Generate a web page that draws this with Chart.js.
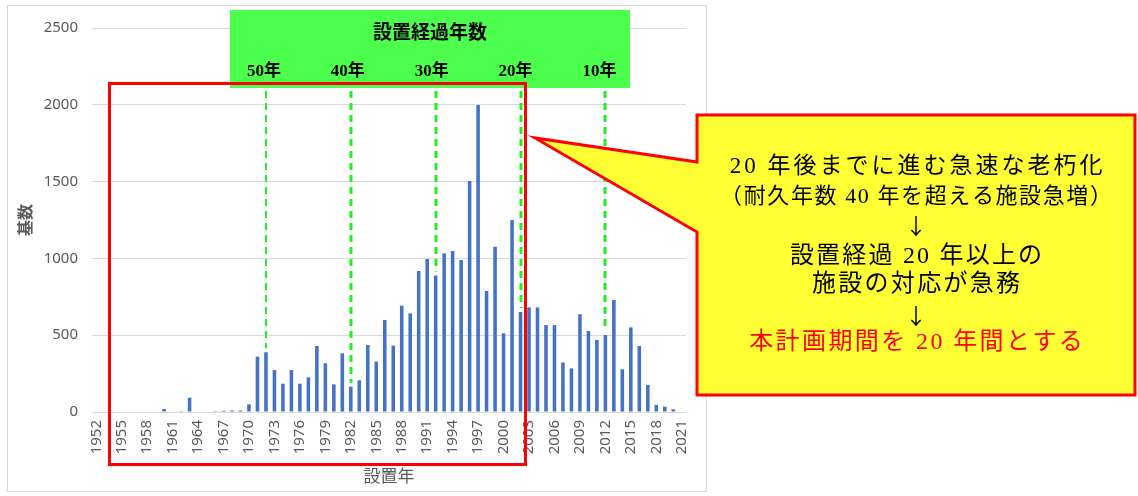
<!DOCTYPE html>
<html>
<head>
<meta charset="utf-8">
<script src="https://cdn.jsdelivr.net/npm/chart.js@4.4.1/dist/chart.umd.min.js"></script>
<style>
  html, body { margin: 0; padding: 0; background: #ffffff; }
  canvas { display: block; }
</style>
</head>
<body>
<canvas id="chart" width="1138" height="496"></canvas>
<script>
// Installation year of each facility group
const years = [
  '1952','1953','1954','1955','1956','1957','1958','1959','1960','1961',
  '1962','1963','1964','1965','1966','1967','1968','1969','1970','1971',
  '1972','1973','1974','1975','1976','1977','1978','1979','1980','1981',
  '1982','1983','1984','1985','1986','1987','1988','1989','1990','1991',
  '1992','1993','1994','1995','1996','1997','1998','1999','2000','2001',
  '2002','2003','2004','2005','2006','2007','2008','2009','2010','2011',
  '2012','2013','2014','2015','2016','2017','2018','2019','2020','2021'
];

// Number of facilities installed per year (基数)
const counts = [
  0, 0, 0, 0, 0, 0, 0, 0, 20, 0,
  5, 93, 0, 0, 5, 8, 10, 10, 50, 360,
  389, 273, 184, 273, 184, 226, 430, 317, 180, 382,
  165, 206, 436, 328, 599, 432, 692, 642, 918, 996,
  888, 1033, 1048, 990, 1504, 1999, 788, 1076, 512, 1250,
  651, 681, 681, 566, 566, 323, 284, 636, 527, 469,
  501, 729, 278, 551, 430, 176, 46, 35, 18, 0
];

// Y-axis ticks
const yTicks = [0, 500, 1000, 1500, 2000, 2500];

// Elapsed-years markers and the installation year each one falls on
const elapsedLabels = ['50年', '40年', '30年', '20年', '10年'];
const elapsedYears = ['1972', '1982', '1992', '2002', '2012'];

// Callout text
const calloutLines = [
  '20 年後までに進む急速な老朽化',
  '（耐久年数 40 年を超える施設急増）',
  '↓',
  '設置経過 20 年以上の',
  '施設の対応が急務',
  '↓',
  '本計画期間を 20 年間とする'
];

const SANS = "'Noto Sans', 'Noto Sans CJK JP', sans-serif";
const SERIF = "'Liberation Serif', 'Noto Sans CJK JP', serif";
const CJK = "'Noto Sans CJK JP', sans-serif";
const GREY = '#595959';

// Outer frame of the chart
const framePlugin = {
  id: 'frame',
  beforeDraw(chart) {
    const ctx = chart.ctx;
    ctx.save();
    ctx.fillStyle = '#ffffff';
    ctx.fillRect(0, 0, chart.width, chart.height);
    ctx.strokeStyle = '#d9d9d9';
    ctx.lineWidth = 1;
    ctx.strokeRect(7.5, 5.5, 699, 486);
    ctx.restore();
  }
};

// Elapsed-years band, dashed markers, highlight frame and callout
const annotationPlugin = {
  id: 'annotations',
  afterDatasetsDraw(chart) {
    const ctx = chart.ctx;
    const xs = chart.scales.x;
    const ys = chart.scales.y;
    ctx.save();

    // green header band
    ctx.fillStyle = '#4cff4c';
    ctx.fillRect(230, 10, 400, 78);
    ctx.fillStyle = '#000000';
    ctx.textAlign = 'center';
    ctx.textBaseline = 'middle';
    ctx.font = 'bold 19px ' + CJK;
    ctx.fillText('設置経過年数', 430, 32);

    ctx.font = 'bold 17px ' + SERIF;
    elapsedYears.forEach((yr, i) => {
      const idx = years.indexOf(yr);
      const x = xs.getPixelForValue(idx);
      ctx.fillText(elapsedLabels[i], x - 2 - i, 72);
    });

    // dashed markers down to each year's bar
    ctx.strokeStyle = '#22ee22';
    ctx.setLineDash([7, 5]);
    elapsedYears.forEach((yr, i) => {
      const idx = years.indexOf(yr);
      const x = Math.round(xs.getPixelForValue(idx));
      const yBar = ys.getPixelForValue(counts[idx]);
      ctx.lineWidth = i === 0 ? 2 : 3;
      ctx.beginPath();
      ctx.moveTo(x, 91);
      ctx.lineTo(x, yBar - 4);
      ctx.stroke();
    });
    ctx.setLineDash([]);

    // red highlight frame
    ctx.strokeStyle = '#ff0000';
    ctx.lineWidth = 3;
    ctx.strokeRect(109.5, 83.5, 416, 381);

    // callout
    ctx.beginPath();
    ctx.moveTo(697, 115);
    ctx.lineTo(1135, 115);
    ctx.lineTo(1135, 395);
    ctx.lineTo(697, 395);
    ctx.lineTo(697, 232);
    ctx.lineTo(535, 138);
    ctx.lineTo(697, 162);
    ctx.closePath();
    ctx.fillStyle = '#ffff33';
    ctx.fill();
    ctx.lineJoin = 'miter';
    ctx.strokeStyle = '#ff0000';
    ctx.lineWidth = 3;
    ctx.stroke();

    const cx = 916;
    const rows = [
      { y: 167, font: '23px ' + SERIF, spacing: 3, color: '#000000' },
      { y: 197, font: '22px ' + SERIF, spacing: 1.6, color: '#000000' },
      { y: 226, font: '22px ' + CJK, spacing: 0, color: '#000000' },
      { y: 257, font: '24px ' + SERIF, spacing: 2.2, color: '#000000' },
      { y: 285, font: '24px ' + SERIF, spacing: 2.3, color: '#000000' },
      { y: 316, font: '22px ' + CJK, spacing: 0, color: '#000000' },
      { y: 343, font: '24px ' + SERIF, spacing: 2.4, color: '#ff0000' }
    ];
    rows.forEach((r, i) => {
      ctx.font = r.font;
      ctx.letterSpacing = r.spacing + 'px';
      ctx.fillStyle = r.color;
      ctx.fillText(calloutLines[i], cx + r.spacing / 2, r.y);
    });
    ctx.letterSpacing = '0px';

    ctx.restore();
  }
};

Chart.defaults.font.family = SANS;
Chart.defaults.color = GREY;

new Chart(document.getElementById('chart'), {
  type: 'bar',
  data: {
    labels: years,
    datasets: [{
      label: '基数',
      data: counts,
      backgroundColor: '#4472c4',
      borderWidth: 0,
      barPercentage: 0.42,
      categoryPercentage: 1.0
    }]
  },
  options: {
    responsive: false,
    animation: false,
    layout: { padding: { left: 11, top: 28, right: 452, bottom: 6 } },
    plugins: {
      legend: { display: false },
      tooltip: { enabled: false }
    },
    scales: {
      x: {
        grid: { display: false, drawTicks: false },
        border: { display: false },
        ticks: {
          autoSkip: false,
          minRotation: 90,
          maxRotation: 90,
          padding: 8,
          font: { size: 15 },
          color: GREY,
          callback: (value, index) => (index % 3 === 0 ? years[index] : '')
        },
        title: {
          display: true,
          text: '設置年',
          color: GREY,
          font: { size: 17, family: CJK }
        },
        afterFit(scale) { scale.height = 78; }
      },
      y: {
        min: 0,
        max: 2500,
        afterBuildTicks(scale) { scale.ticks = yTicks.map(v => ({ value: v })); },
        grid: { color: '#d9d9d9', drawTicks: false },
        border: { display: false },
        ticks: {
          padding: 14,
          font: { size: 15 },
          color: GREY,
          callback: (value) => String(value)
        },
        title: {
          display: true,
          text: '基数',
          color: GREY,
          font: { size: 16, weight: 'bold', family: CJK }
        },
        afterFit(scale) { scale.width = 81; }
      }
    }
  },
  plugins: [framePlugin, annotationPlugin]
});
</script>
</body>
</html>
